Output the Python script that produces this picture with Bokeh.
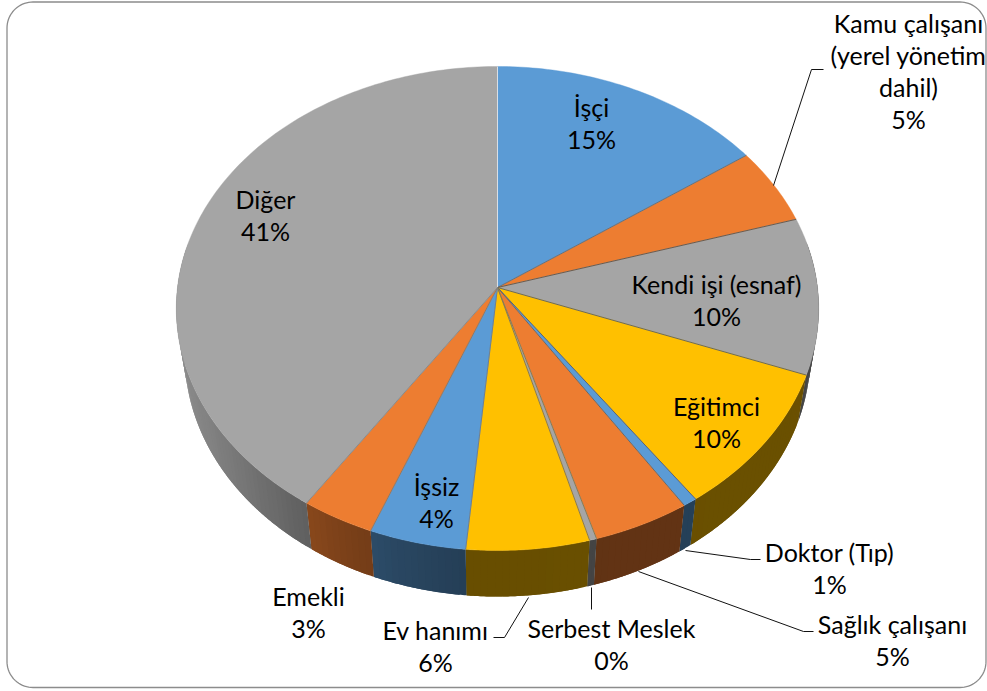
import numpy as np
from bokeh.plotting import figure
from bokeh.embed import file_html
from bokeh.resources import INLINE
from bokeh.core.properties import value
from bokeh.models import ColumnDataSource

# ---- data
categories = ["İşçi", "Kamu çalışanı (yerel yönetim dahil)", "Kendi işi (esnaf)", "Eğitimci", "Doktor (Tıp)",
              "Sağlık çalışanı", "Serbest Meslek", "Ev hanımı", "İşsiz", "Emekli", "Diğer"]
values = [15.2, 5.1, 10.45, 9.5, 0.65, 4.52, 0.33, 5.7, 4.49, 3.4, 40.66]
pct_labels = ["15%", "5%", "10%", "10%", "1%", "5%", "0%", "6%", "4%", "3%", "41%"]
colors = ["#5b9bd5", "#ed7d31", "#a5a5a5", "#ffc000", "#5b9bd5", "#ed7d31", "#a5a5a5", "#ffc000", "#5b9bd5", "#ed7d31", "#a5a5a5"]

# ---- label layout: lines and centre of each label block
label_lines = [["İşçi"], ["Kamu çalışanı", "(yerel yönetim", "dahil)"], ["Kendi işi (esnaf)"], ["Eğitimci"], ["Doktor (Tıp)"],
               ["Sağlık çalışanı"], ["Serbest Meslek"], ["Ev hanımı"], ["İşsiz"], ["Emekli"], ["Diğer"]]
label_x = [591, 908, 716, 716, 829, 892, 611, 435, 436, 308, 265]
label_top = [106.5, 22.5, 283.5, 405.5, 551.5, 623.5, 627.5, 629.5, 485.5, 595.5, 198.5]
LINE_H = 32
FONT = "Lato"
FONT_SIZE = "25px"

leaders = [[(773, 185), (811, 69), (823, 69)],
           [(685, 550), (750, 559), (760, 559)],
           [(638, 571), (803, 631), (813, 631)],
           [(591, 587), (591, 609)],
           [(528, 597), (504, 637), (493, 637)]]

# ---- perspective projection of the pie disc
CX, CY, K, B, C = 497.0, 287.0, 0.0868, -215.3, 320.0
DEPTH, SHRINK = 46.0, 0.974


def project(theta):
    X, Y = np.sin(theta), np.cos(theta)
    d = 1 + K * Y
    return CX + C * X / d, (CY + B * Y) / d


def lower(x, y):
    return CX + SHRINK * (x - CX), y + DEPTH


def shade(x):
    return np.interp(x, [180, 310, 340, 400, 460, 500, 800, 820], [.86, .58, .53, .46, .41, .41, .42, .45])


def darken(hexc, f):
    r, g, b = int(hexc[1:3], 16), int(hexc[3:5], 16), int(hexc[5:7], 16)
    return "#%02x%02x%02x" % (int(r * f), int(g * f), int(b * f))


p = figure(width=987, height=691, x_range=(0, 987), y_range=(691, 0), output_backend="svg",
           toolbar_location=None, min_border=0, outline_line_color=None)
p.axis.visible = False
p.grid.visible = False
p.styles = {"position": "absolute", "left": "0px", "top": "0px"}

# rounded frame
L, T, R_, Bt, r = 6.5, 1.5, 985.5, 687.0, 26
a = np.linspace(0, np.pi / 2, 20)
fx = np.r_[L + r - r * np.cos(a), R_ - r + r * np.sin(a), R_ - r + r * np.cos(a), L + r - r * np.sin(a)]
fy = np.r_[T + r - r * np.sin(a), T + r - r * np.cos(a), Bt - r + r * np.sin(a), Bt - r + r * np.cos(a)]
p.patch(fx, fy, fill_color="white", line_color="#8c8c8c", line_width=1.3)

cum = np.r_[0, np.cumsum(values)] / sum(values) * 2 * np.pi

# side walls: overlapping strips so that no seams show
xs, ys, cs = [], [], []
for i, col in enumerate(colors):
    n = max(2, int((cum[i + 1] - cum[i]) * 50))
    th = np.linspace(cum[i], cum[i + 1], n + 1)
    for j in range(n):
        a0, a1 = th[j], th[min(j + 2, n)]
        arc = np.linspace(a0, a1, 8)
        x, y = project(arc)
        if y.max() < 250:
            continue
        lx, ly = lower(x, y)
        xs.append(np.r_[x, lx[::-1]].tolist())
        ys.append(np.r_[y, ly[::-1]].tolist())
        cs.append(darken(col, shade(lx[:4].mean())))
p.patches(xs, ys, fill_color=cs, line_color=None)

# top faces
fxs, fys = [], []
for i in range(len(values)):
    th = np.linspace(cum[i], cum[i + 1], max(3, int((cum[i + 1] - cum[i]) * 60)))
    x, y = project(th)
    fxs.append(np.r_[CX, x].tolist())
    fys.append(np.r_[CY, y].tolist())
p.patches(fxs, fys, fill_color=colors, line_color=colors, line_width=0.4)

# radial edges
ex, ey = project(cum[:-1])
edge_colors = ["#d9dfe6", "#5f7486", "#6b5a4c", "#6a6a5a", "#5c6470", "#6a6a6a", "#8a7a50", "#8a7a50", "#6f7f8f", "#8d7a6a", "#8a8a8a"]
p.segment([CX] * len(ex), [CY] * len(ex), ex, ey, line_color=edge_colors, line_width=1)

# leaders
for pts in leaders:
    p.line([q[0] for q in pts], [q[1] for q in pts], line_color="#111111", line_width=1)

# labels
tx, ty, tt = [], [], []
for lines, lx, ltop, pct in zip(label_lines, label_x, label_top, pct_labels):
    for j, t in enumerate(lines + [pct]):
        tx.append(lx)
        ty.append(ltop + j * LINE_H)
        tt.append(t)
src = ColumnDataSource(dict(x=tx, y=ty, t=tt))
p.text("x", "y", text="t", source=src, text_font=value(FONT), text_font_size=FONT_SIZE, text_align="center",
       text_baseline="middle", text_color="#000000")

open("out.html", "w").write(file_html(p, INLINE))
